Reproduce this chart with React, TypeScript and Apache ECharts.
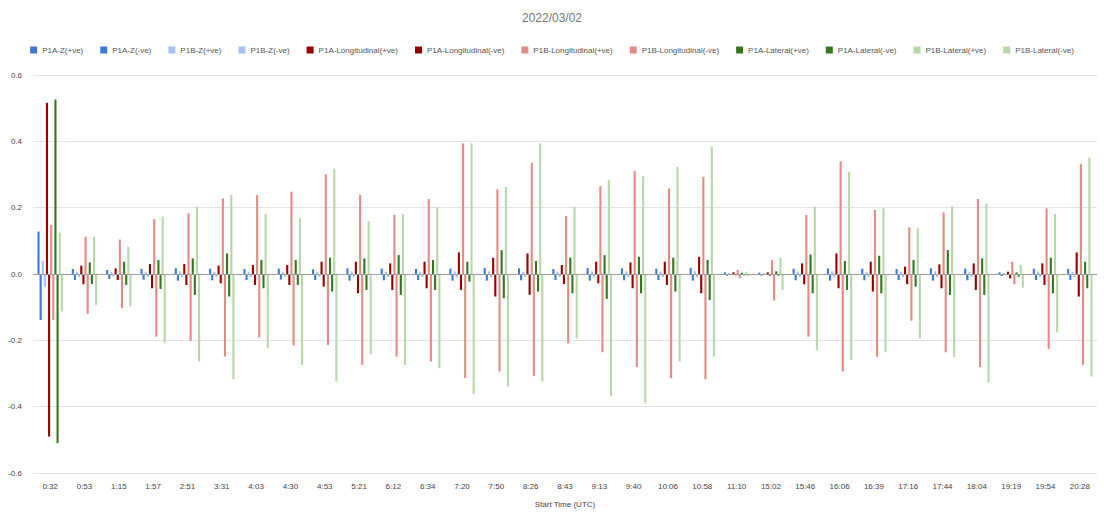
import React, { useEffect, useRef } from "react";
import * as echarts from "echarts";

const categories = ["0:32","0:53","1:15","1:57","2:51","3:31","4:03","4:30","4:53","5:21","6:12","6:34","7:20","7:50","8:26","8:43","9:13","9:40","10:06","10:58","11:10","15:02","15:46","16:06","16:39","17:16","17:44","18:04","19:19","19:54","20:28"];

const p1aZPos = [0.128,0.015,0.012,0.015,0.017,0.016,0.015,0.016,0.014,0.017,0.016,0.015,0.016,0.018,0.017,0.015,0.018,0.017,0.016,0.018,0.005,0.004,0.016,0.017,0.016,0.015,0.017,0.016,0.005,0.016,0.015];
const p1aZNeg = [-0.139,-0.018,-0.015,-0.017,-0.02,-0.019,-0.018,-0.017,-0.018,-0.02,-0.019,-0.018,-0.02,-0.02,-0.019,-0.018,-0.02,-0.019,-0.018,-0.02,-0.005,-0.005,-0.019,-0.02,-0.019,-0.018,-0.02,-0.019,-0.006,-0.018,-0.018];
const p1bZPos = [0.04,0.007,0.006,0.007,0.008,0.007,0.007,0.007,0.006,0.008,0.007,0.007,0.008,0.008,0.007,0.007,0.008,0.008,0.007,0.008,0.003,0.003,0.007,0.008,0.007,0.007,0.008,0.007,0.003,0.007,0.007];
const p1bZNeg = [-0.038,-0.009,-0.008,-0.009,-0.01,-0.009,-0.009,-0.009,-0.008,-0.01,-0.009,-0.009,-0.01,-0.01,-0.009,-0.009,-0.01,-0.01,-0.009,-0.01,-0.003,-0.003,-0.009,-0.01,-0.009,-0.009,-0.01,-0.009,-0.003,-0.009,-0.009];
const p1aLongPos = [0.516,0.025,0.017,0.03,0.03,0.025,0.027,0.027,0.037,0.037,0.032,0.037,0.065,0.049,0.062,0.027,0.037,0.035,0.037,0.052,0.005,0.005,0.032,0.062,0.037,0.022,0.029,0.032,0.007,0.032,0.065];
const p1aLongNeg = [-0.49,-0.031,-0.018,-0.043,-0.033,-0.028,-0.033,-0.033,-0.038,-0.058,-0.048,-0.043,-0.048,-0.068,-0.063,-0.03,-0.028,-0.043,-0.033,-0.058,-0.004,-0.005,-0.031,-0.043,-0.053,-0.031,-0.043,-0.048,-0.013,-0.033,-0.068];
const p1bLongPos = [0.148,0.112,0.104,0.165,0.183,0.228,0.238,0.248,0.301,0.238,0.178,0.226,0.394,0.255,0.335,0.175,0.265,0.311,0.258,0.293,0.013,0.042,0.178,0.34,0.193,0.141,0.186,0.226,0.037,0.198,0.331];
const p1bLongNeg = [-0.139,-0.12,-0.103,-0.189,-0.202,-0.249,-0.191,-0.216,-0.214,-0.274,-0.249,-0.264,-0.314,-0.294,-0.307,-0.209,-0.236,-0.281,-0.314,-0.317,-0.012,-0.08,-0.189,-0.294,-0.25,-0.141,-0.236,-0.281,-0.031,-0.226,-0.274];
const p1aLatPos = [0.526,0.035,0.037,0.042,0.047,0.062,0.042,0.042,0.049,0.047,0.057,0.042,0.037,0.072,0.039,0.049,0.057,0.052,0.049,0.042,0.004,0.008,0.059,0.039,0.055,0.042,0.072,0.047,0.005,0.049,0.037];
const p1aLatNeg = [-0.51,-0.03,-0.033,-0.045,-0.063,-0.068,-0.043,-0.033,-0.053,-0.048,-0.063,-0.048,-0.023,-0.073,-0.053,-0.058,-0.075,-0.058,-0.053,-0.078,-0.004,-0.005,-0.058,-0.048,-0.058,-0.038,-0.063,-0.063,-0.008,-0.058,-0.043];
const p1bLatPos = [0.125,0.112,0.082,0.173,0.203,0.238,0.181,0.168,0.318,0.16,0.181,0.2,0.394,0.263,0.394,0.203,0.283,0.295,0.323,0.384,0.006,0.049,0.203,0.308,0.198,0.138,0.205,0.213,0.027,0.181,0.351];
const p1bLatNeg = [-0.113,-0.093,-0.098,-0.207,-0.264,-0.317,-0.224,-0.274,-0.324,-0.241,-0.274,-0.284,-0.361,-0.339,-0.324,-0.194,-0.369,-0.39,-0.264,-0.249,-0.006,-0.048,-0.229,-0.259,-0.236,-0.194,-0.251,-0.327,-0.041,-0.176,-0.309];

const seriesDefs = [
  { name: "P1A-Z(+ve)", data: p1aZPos, color: "#3c78d8" },
  { name: "P1A-Z(-ve)", data: p1aZNeg, color: "#3c78d8" },
  { name: "P1B-Z(+ve)", data: p1bZPos, color: "#a4c2f4" },
  { name: "P1B-Z(-ve)", data: p1bZNeg, color: "#a4c2f4" },
  { name: "P1A-Longitudinal(+ve)", data: p1aLongPos, color: "#980000" },
  { name: "P1A-Longitudinal(-ve)", data: p1aLongNeg, color: "#980000" },
  { name: "P1B-Longitudinal(+ve)", data: p1bLongPos, color: "#e38b84" },
  { name: "P1B-Longitudinal(-ve)", data: p1bLongNeg, color: "#e38b84" },
  { name: "P1A-Lateral(+ve)", data: p1aLatPos, color: "#38761d" },
  { name: "P1A-Lateral(-ve)", data: p1aLatNeg, color: "#38761d" },
  { name: "P1B-Lateral(+ve)", data: p1bLatPos, color: "#b6d7a8" },
  { name: "P1B-Lateral(-ve)", data: p1bLatNeg, color: "#b6d7a8" },
];

export default function App() {
  const ref = useRef<HTMLDivElement>(null);
  useEffect(() => {
    if (!ref.current) return;
    const chart = echarts.init(ref.current, null, { renderer: "svg" });
    const font = "Arial, 'Liberation Sans', sans-serif";
    chart.setOption({
      animation: false,
      backgroundColor: "#ffffff",
      textStyle: { fontFamily: font },
      title: {
        text: "2022/03/02",
        left: "center",
        top: 7,
        textStyle: { fontSize: 12, fontWeight: "normal", color: "#757575", fontFamily: font },
      },
      legend: {
        top: 41,
        left: "center",
        itemWidth: 7,
        itemHeight: 7,
        itemGap: 17,
        icon: "rect",
        textStyle: { fontSize: 8, color: "#555", fontFamily: font },
        data: seriesDefs.map((s) => s.name),
      },
      grid: { left: 33, right: 7, top: 75, bottom: 41, containLabel: false },
      xAxis: {
        type: "category",
        data: categories,
        name: "Start Time (UTC)",
        nameLocation: "middle",
        nameGap: 27,
        nameTextStyle: { fontSize: 8, color: "#444", fontFamily: font },
        axisLine: { show: false },
        axisTick: { show: false },
        axisLabel: { fontSize: 8, color: "#444", margin: 9, interval: 0, fontFamily: font },
      },
      yAxis: {
        type: "value",
        min: -0.6,
        max: 0.6,
        interval: 0.2,
        axisLine: { show: false },
        axisTick: { show: false },
        axisLabel: {
          fontSize: 8,
          color: "#444",
          margin: 11,
          fontFamily: font,
          formatter: (v: number) => v.toFixed(1),
        },
        splitLine: { lineStyle: { color: "#e3e3e3", width: 1 } },
      },
      series: seriesDefs.map((s, i) => ({
        name: s.name,
        type: "bar",
        data: s.data,
        barGap: "0%",
        barCategoryGap: "26%",
        itemStyle: { color: s.color },
        ...(i === 0
          ? {
              markLine: {
                silent: true,
                symbol: "none",
                label: { show: false },
                lineStyle: { color: "#9e9e9e", type: "solid", width: 1 },
                data: [{ yAxis: 0 }],
              },
            }
          : {}),
      })),
    });
    return () => chart.dispose();
  }, []);
  return (
    <div
      ref={ref}
      style={{ position: "fixed", left: 0, top: 0, width: 1104, height: 514 }}
    />
  );
}
